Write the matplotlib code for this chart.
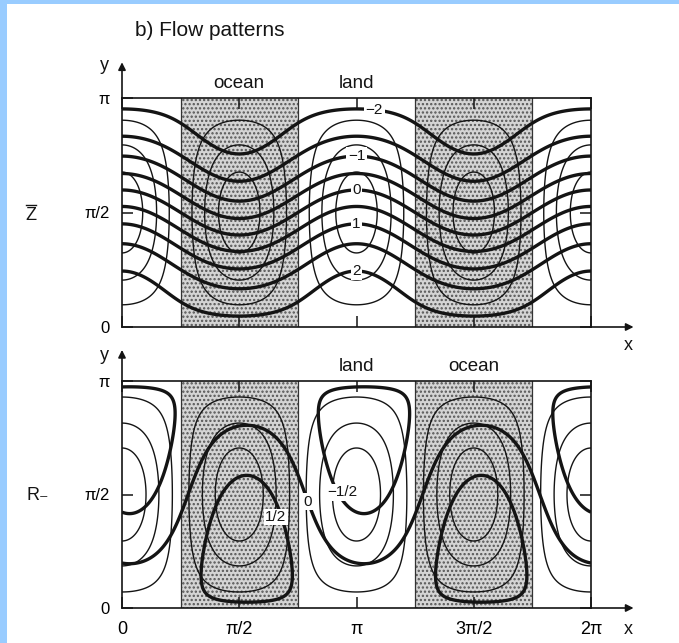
import numpy as np
import matplotlib
matplotlib.use("Agg")
import matplotlib.pyplot as plt
from matplotlib.lines import Line2D
from matplotlib.patches import Rectangle

plt.rcParams['font.family'] = ['Liberation Sans', 'DejaVu Sans']
plt.rcParams['hatch.linewidth'] = 1.1
plt.rcParams['hatch.color'] = '#555555'

PI = np.pi
# ---------------- data ----------------
ocean_spans = [(PI / 4, 3 * PI / 4), (5 * PI / 4, 7 * PI / 4)]
top_regions = ['ocean', 'land']
top_region_x = [PI / 2, PI]
bot_regions = ['land', 'ocean']
bot_region_x = [PI, 3 * PI / 2]

# Z-bar streamfunction: mean part + land/ocean wave part
z_mean_amp = 2.125
z_wave_amp = 0.678
z_levels = [-2, -1.5, -1, -0.5, 0, 0.5, 1, 1.5, 2]
z_labeled = [-2, -1, 0, 1, 2]
z_label_text = ['\u22122', '\u22121', '0', '1', '2']
z_label_dx = [0.24, 0.0, 0.0, 0.0, 0.0]
thin_top_levels = [-0.85, -0.6, -0.3, 0.3, 0.6, 0.85]

# R_ field
r_wave_amp = 0.64
r_mean_amp = 0.45
r_phase = 0.1
r_levels = [-0.5, 0, 0.5]
r_label_text = ['0', '\u22121/2', '1/2']
r_label_pos = [(2.49, 1.47), (2.95, 1.60), (2.06, 1.26)]
thin_bot_levels = [-0.8, -0.55, -0.22, 0.22, 0.55, 0.8]

x_ticks = [0, PI / 2, PI, 3 * PI / 2, 2 * PI]
x_ticklabels = ['0', '\u03c0/2', '\u03c0', '3\u03c0/2', '2\u03c0']
y_ticks = [0, PI / 2, PI]
y_ticklabels = ['0', '\u03c0/2', '\u03c0']

# ---------------- figure ----------------
W, H = 679, 643
fig = plt.figure(figsize=(W / 100, H / 100), dpi=100)
fig.patch.set_facecolor('white')
fig.patches.append(Rectangle((0, 0), 7 / W, 1, transform=fig.transFigure,
                             facecolor='#99ccff', edgecolor='none', zorder=-5))
fig.patches.append(Rectangle((0, 1 - 4 / H), 1, 4 / H, transform=fig.transFigure,
                             facecolor='#99ccff', edgecolor='none', zorder=-5))


def rect(x0, x1, y0, y1):
    return [x0 / W, 1 - y1 / H, (x1 - x0) / W, (y1 - y0) / H]


def fx(px):
    return px / W


def fy(py):
    return 1 - py / H


ax_top = fig.add_axes(rect(122, 591, 98, 327))
ax_bot = fig.add_axes(rect(122, 591, 381, 608))

xg = np.linspace(0, 2 * PI, 700)
yg = np.linspace(0, PI, 350)
X, Y = np.meshgrid(xg, yg)
T = np.cos(2 * X) * np.sin(Y)
Z = z_mean_amp * np.cos(Y) + z_wave_amp * np.cos(2 * X) * np.sin(Y)
R = -r_wave_amp * np.cos(2 * (X - r_phase)) * np.sin(Y) + r_mean_amp * np.cos(Y)

INK = '#141414'


def setup(ax, yext, regions, region_x, xlabels):
    ax.set_xlim(0, 2 * PI)
    ax.set_ylim(0, PI)
    for (a, b) in ocean_spans:
        ax.axvspan(a, b, facecolor='#d4d4d4', edgecolor='#555555', hatch='....',
                   lw=0, zorder=0)
        ax.axvline(a, color='#333333', lw=0.9, zorder=1)
        ax.axvline(b, color='#333333', lw=0.9, zorder=1)
    for s in ax.spines.values():
        s.set_linewidth(1.2)
        s.set_color(INK)
    ax.set_xticks(x_ticks)
    ax.set_yticks(y_ticks)
    ax.set_yticklabels(y_ticklabels, fontsize=12)
    if xlabels:
        ax.set_xticklabels(x_ticklabels, fontsize=13)
    ax.tick_params(axis='x', direction='in', length=8, width=1.1, top=True,
                   bottom=True, labelbottom=xlabels, pad=9, color=INK)
    ax.tick_params(axis='y', direction='in', length=8, width=1.1, left=True,
                   right=True, pad=9, color=INK)
    ax.annotate('', xy=(0, PI + yext), xytext=(0, PI - 0.01),
                arrowprops=dict(arrowstyle='-|>', lw=1.2, color=INK,
                                mutation_scale=11, shrinkA=0, shrinkB=0),
                annotation_clip=False)
    ax.annotate('', xy=(2 * PI + 0.57, 0), xytext=(2 * PI - 0.01, 0),
                arrowprops=dict(arrowstyle='-|>', lw=1.2, color=INK,
                                mutation_scale=11, shrinkA=0, shrinkB=0),
                annotation_clip=False)
    for name, xv in zip(regions, region_x):
        ax.annotate(name, xy=(xv, PI), xytext=(0, 4), textcoords='offset points',
                    ha='center', va='bottom', fontsize=13.5, color=INK,
                    annotation_clip=False)


setup(ax_top, 0.49, top_regions, top_region_x, False)
setup(ax_bot, 0.43, bot_regions, bot_region_x, True)

# top panel contours
ax_top.contour(X, Y, T, levels=thin_top_levels, colors=INK, linewidths=1.0,
               linestyles='solid', zorder=2)
ax_top.contour(X, Y, Z, levels=z_levels, colors=INK, linewidths=2.4,
               linestyles='solid', zorder=3)
col = np.argmin(np.abs(xg - PI))
mask = yg > 0.4
ycol = yg[mask][::-1]
for lv, txt, dx in zip(z_labeled, z_label_text, z_label_dx):
    xl = PI + dx
    c2 = np.argmin(np.abs(xg - xl))
    yl = np.interp(lv, Z[mask, c2][::-1], ycol)
    ax_top.text(xl, yl, txt, ha='center', va='center', fontsize=11, color=INK,
                zorder=5, bbox=dict(facecolor='white', edgecolor='none', pad=1.2))

# bottom panel contours
ax_bot.contour(X, Y, T, levels=thin_bot_levels, colors=INK, linewidths=1.0,
               linestyles='solid', zorder=2)
ax_bot.contour(X, Y, R, levels=r_levels, colors=INK, linewidths=2.4,
               linestyles='solid', zorder=3)
for txt, (xl, yl) in zip(r_label_text, r_label_pos):
    ax_bot.text(xl, yl, txt, ha='center', va='center', fontsize=11, color=INK,
                zorder=5, bbox=dict(facecolor='white', edgecolor='none', pad=1.0))

# annotations outside axes
fig.text(fx(135), fy(31), 'b) Flow patterns', ha='left', va='center', fontsize=15, color=INK)
fig.text(fx(104), fy(66), 'y', ha='center', va='center', fontsize=13, color=INK)
fig.text(fx(104), fy(355), 'y', ha='center', va='center', fontsize=13, color=INK)
fig.text(fx(628), fy(346), 'x', ha='center', va='center', fontsize=13, color=INK)
fig.text(fx(628), fy(630), 'x', ha='center', va='center', fontsize=13, color=INK)
fig.text(fx(31), fy(216), 'Z', ha='center', va='center', fontsize=13, color=INK)
fig.add_artist(Line2D([fx(26), fx(36)], [fy(205), fy(205)], color=INK, lw=1.0))
fig.text(fx(38), fy(496), 'R\u208b', ha='center', va='center', fontsize=13, color=INK)

fig.savefig('out.png', dpi=100, facecolor='white')
